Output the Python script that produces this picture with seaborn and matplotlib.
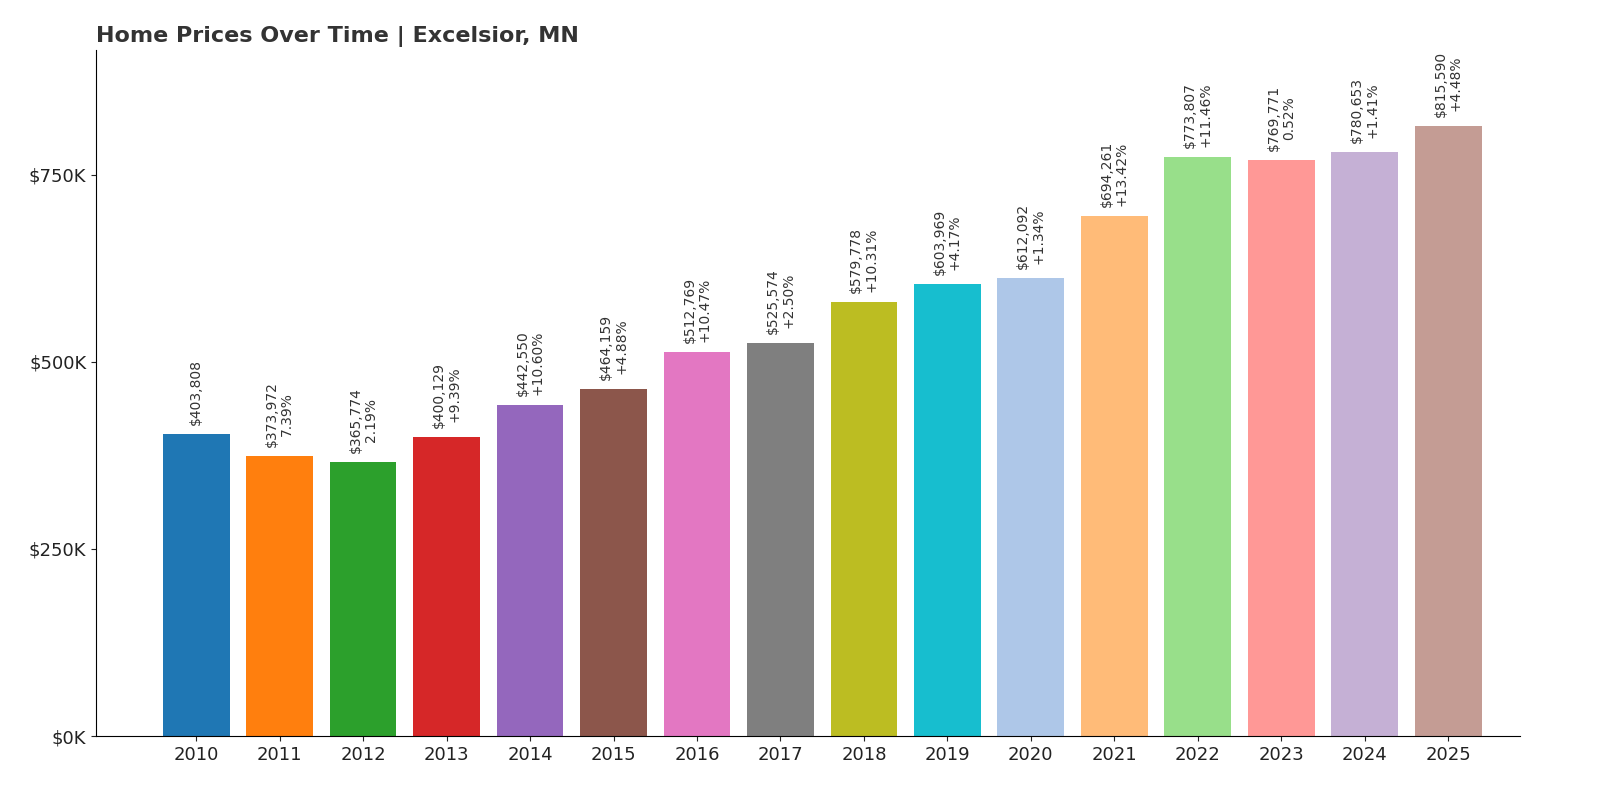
import matplotlib
matplotlib.use("Agg")
import matplotlib.pyplot as plt
import matplotlib.ticker as ticker
import seaborn as sns
import pandas as pd

years = [str(y) for y in range(2010, 2026)]
prices = [403808, 373972, 365774, 400129, 442550, 464159, 512769, 525574,
          579778, 603969, 612092, 694261, 773807, 769771, 780653, 815590]
changes = ["", "7.39%", "2.19%", "+9.39%", "+10.60%", "+4.88%", "+10.47%", "+2.50%",
           "+10.31%", "+4.17%", "+1.34%", "+13.42%", "+11.46%", "0.52%", "+1.41%", "+4.48%"]
colors = ["#1f77b4", "#ff7f0e", "#2ca02c", "#d62728", "#9467bd", "#8c564b", "#e377c2",
          "#7f7f7f", "#bcbd22", "#17becf", "#aec7e8", "#ffbb78", "#98df8a", "#ff9896",
          "#c5b0d5", "#c49c94"]

df = pd.DataFrame({"year": years, "price": prices})

fig = plt.figure(figsize=(16, 8), dpi=100)
ax = fig.add_axes([0.06, 0.08, 0.89, 0.857])
sns.barplot(data=df, x="year", y="price", hue="year", palette=colors,
            legend=False, width=0.8, saturation=1, ax=ax)

for i, (p, c) in enumerate(zip(prices, changes)):
    txt = f"${p:,}" + (f"\n{c}" if c else "")
    ax.text(i, p + 12000, txt, rotation=90, ha="center", va="bottom",
            fontsize=10, color="#333333", linespacing=1.1)

ax.set_xlim(-1.2, 15.86)
ax.set_ylim(0, 916000)
ax.yaxis.set_major_locator(ticker.MultipleLocator(250000))
ax.yaxis.set_major_formatter(ticker.FuncFormatter(lambda v, _: f"${v/1000:.0f}K"))
ax.set_xlabel("")
ax.set_ylabel("")
ax.tick_params(labelsize=13, colors="#222222")
sns.despine(ax=ax)
ax.set_title("Home Prices Over Time | Excelsior, MN", loc="left", fontsize=16,
             fontweight="bold", color="#333333", x=0.0, pad=6)
fig.savefig("out.png")
